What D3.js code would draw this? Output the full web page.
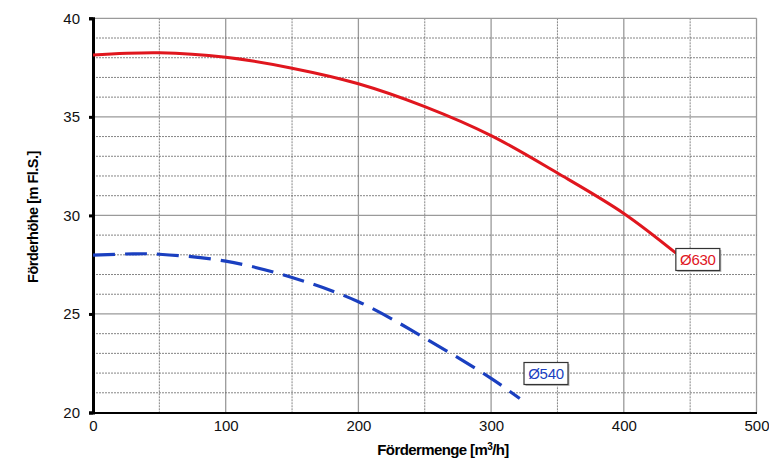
<!DOCTYPE html>
<html><head><meta charset="utf-8">
<script src="https://cdn.jsdelivr.net/npm/d3@7"></script>
<style>body{margin:0;background:#fff}svg{display:block}text{font-family:"Liberation Sans",Arial,sans-serif}</style>
</head><body><svg id="c" width="769" height="462"></svg>
<script>
const xTicks=[0,100,200,300,400,500];
const yTicks=[20,25,30,35,40];
const flow630=[0,50,100,150,200,250,300,350,400,439.6];
const head630=[38.14,38.25,38.02,37.47,36.68,35.52,34.05,32.15,30.1,28.07];
const flow540=[0,30,50,100,150,200,250,300,321.6];
const head540=[27.98,28.05,28.03,27.68,26.85,25.62,23.78,21.73,20.71];
const labels=[{name:"Ø630",color:"#e0161e"},{name:"Ø540",color:"#1a3fc0"}];

const svg=d3.select("#c");
const x=d3.scaleLinear().domain([0,500]).range([93,756.5]);
const y=d3.scaleLinear().domain([20,40]).range([412.5,18.3]);

// grid
const g=svg.append("g");
d3.range(50,501,50).forEach(v=>{
  const major=v%100===0;
  g.append("line").attr("x1",x(v)).attr("x2",x(v)).attr("y1",y(40)).attr("y2",y(20))
   .attr("stroke",major?"#9a9a9a":"#666").attr("stroke-width",major?1.3:0.8)
   .attr("stroke-dasharray",major?null:"2,1");
});
d3.range(21,41,1).forEach(v=>{
  const major=v%5===0;
  g.append("line").attr("x1",x(0)).attr("x2",x(500)).attr("y1",y(v)).attr("y2",y(v))
   .attr("stroke",major?"#9a9a9a":"#666").attr("stroke-width",major?1.3:0.8)
   .attr("stroke-dasharray",major?null:"2,1");
});

// axes
const xa=svg.append("g").attr("transform",`translate(0,${y(20)})`)
  .call(d3.axisBottom(x).tickValues(xTicks).tickSize(0).tickPadding(8));
xa.select(".domain").attr("stroke","#000").attr("stroke-width",2);
xa.selectAll("text").attr("font-size",15).attr("fill","#111");
const ya=svg.append("g").attr("transform",`translate(${x(0)},0)`)
  .call(d3.axisLeft(y).tickValues(yTicks).tickSize(4).tickPadding(9));
ya.select(".domain").attr("stroke","#000").attr("stroke-width",3);
ya.selectAll(".tick line").attr("stroke","#000").attr("stroke-width",3);
ya.selectAll("text").attr("font-size",15).attr("fill","#111");

// curves
const line=d3.line().x(d=>x(d[0])).y(d=>y(d[1])).curve(d3.curveCatmullRom.alpha(0.5));
svg.append("path").datum(flow630.map((f,i)=>[f,head630[i]])).attr("d",line)
  .attr("fill","none").attr("stroke",labels[0].color).attr("stroke-width",3);
svg.append("path").datum(flow540.map((f,i)=>[f,head540[i]])).attr("d",line)
  .attr("fill","none").attr("stroke",labels[1].color).attr("stroke-width",3.2)
  .attr("stroke-dasharray","22,10");

// labels
function box(cx,cy,lab){
  const gg=svg.append("g");
  gg.append("rect").attr("x",cx+1.5).attr("y",cy+1.5).attr("width",44).attr("height",22).attr("fill","#bbb");
  gg.append("rect").attr("x",cx).attr("y",cy).attr("width",44).attr("height",22).attr("fill","#fff")
    .attr("stroke","#333").attr("stroke-width",1.2);
  gg.append("text").attr("x",cx+22).attr("y",cy+16.5).attr("text-anchor","middle")
    .attr("font-size",15).attr("fill",lab.color).attr("letter-spacing","-0.3").text(lab.name);
}
box(x(flow630[flow630.length-1])-0.5,248.5,labels[0]);
box(524,362.5,labels[1]);

// titles
svg.append("text").attr("x",443).attr("y",455).attr("text-anchor","middle")
  .attr("font-size",15).attr("font-weight","bold").attr("letter-spacing","-0.6")
  .html('Fördermenge [m<tspan font-size="10" dy="-5">3</tspan><tspan dy="5">/h]</tspan>');
svg.append("text").attr("transform","translate(38,217) rotate(-90)").attr("text-anchor","middle")
  .attr("font-size",14.5).attr("font-weight","bold").attr("letter-spacing","-0.5")
  .text("Förderhöhe [m Fl.S.]");
</script></body></html>
